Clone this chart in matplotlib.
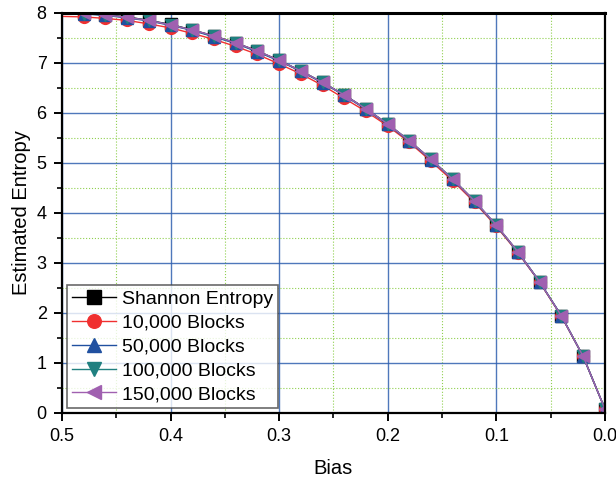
import matplotlib
matplotlib.use("Agg")
import matplotlib.pyplot as plt
from matplotlib.ticker import MultipleLocator

plt.rcParams["font.family"] = ["Liberation Sans", "DejaVu Sans"]

# bias values (0.5 down to 0.0)
bias = [0.50, 0.48, 0.46, 0.44, 0.42, 0.40, 0.38, 0.36, 0.34, 0.32, 0.30, 0.28, 0.26,
        0.24, 0.22, 0.20, 0.18, 0.16, 0.14, 0.12, 0.10, 0.08, 0.06, 0.04, 0.02, 0.00]

shannon = [8.00, 7.99, 7.96, 7.92, 7.85, 7.77, 7.66, 7.54, 7.40, 7.24, 7.05, 6.84, 6.61,
           6.36, 6.08, 5.78, 5.44, 5.07, 4.67, 4.24, 3.75, 3.22, 2.62, 1.94, 1.13, 0.08]
blocks_10k = [7.93, 7.92, 7.89, 7.85, 7.78, 7.70, 7.59, 7.47, 7.33, 7.17, 6.98, 6.78, 6.55,
              6.29, 6.03, 5.74, 5.41, 5.03, 4.64, 4.21, 3.73, 3.20, 2.61, 1.93, 1.13, 0.08]
blocks_50k = [7.99, 7.98, 7.95, 7.90, 7.84, 7.75, 7.65, 7.52, 7.39, 7.22, 7.04, 6.83, 6.60,
              6.35, 6.07, 5.77, 5.43, 5.06, 4.67, 4.23, 3.75, 3.21, 2.62, 1.94, 1.13, 0.08]
blocks_100k = [8.00, 7.98, 7.96, 7.91, 7.85, 7.76, 7.66, 7.53, 7.40, 7.23, 7.05, 6.84, 6.61,
               6.36, 6.08, 5.78, 5.44, 5.07, 4.67, 4.24, 3.75, 3.22, 2.62, 1.94, 1.13, 0.08]
blocks_150k = [8.00, 7.99, 7.96, 7.91, 7.85, 7.76, 7.66, 7.54, 7.40, 7.24, 7.05, 6.84, 6.61,
               6.36, 6.08, 5.78, 5.44, 5.07, 4.67, 4.24, 3.76, 3.22, 2.62, 1.94, 1.13, 0.08]

series = [
    ("Shannon Entropy", shannon, "black", "s"),
    ("10,000 Blocks", blocks_10k, "#f03030", "o"),
    ("50,000 Blocks", blocks_50k, "#2050a0", "^"),
    ("100,000 Blocks", blocks_100k, "#208080", "v"),
    ("150,000 Blocks", blocks_150k, "#a060b0", "<"),
]

fig = plt.figure(figsize=(6.16, 4.78), dpi=100)
ax = fig.add_axes([0.1006, 0.136, 0.8814, 0.837])

for nome, vals, cor, marc in series:
    ax.plot(bias, vals, color=cor, marker=marc, markersize=8.5, linewidth=1.0,
            markevery=slice(1, None), label=nome)

ax.set_xlim(0.5, 0.0)
ax.set_ylim(0, 8)
ax.xaxis.set_major_locator(MultipleLocator(0.1))
ax.xaxis.set_minor_locator(MultipleLocator(0.05))
ax.yaxis.set_major_locator(MultipleLocator(1))
ax.yaxis.set_minor_locator(MultipleLocator(0.5))
ax.set_xticks([0.5, 0.4, 0.3, 0.2, 0.1, 0.0])
ax.set_xticklabels(["0.5", "0.4", "0.3", "0.2", "0.1", "0.0"])

ax.grid(which="major", color="#3060b0", linewidth=1.0, alpha=0.85)
ax.grid(which="minor", color="#90d050", linewidth=0.8, linestyle=":")
ax.set_axisbelow(True)

for lado in ["left", "bottom", "right"]:
    ax.spines[lado].set_linewidth(1.6)
    ax.spines[lado].set_color("black")
ax.spines["top"].set_linewidth(2.2)

ax.tick_params(which="major", direction="out", length=6, width=1.4, labelsize=13, pad=5)
ax.tick_params(which="minor", direction="out", length=3.5, width=1.2)
ax.tick_params(top=False, right=False, which="both")

ax.set_xlabel("Bias", fontsize=14.5, labelpad=10)
ax.set_ylabel("Estimated Entropy", fontsize=14.5, labelpad=4)

leg = ax.legend(loc="lower left", fontsize=14, frameon=True, fancybox=False,
                edgecolor="#444444", borderaxespad=0.25, handlelength=2.3,
                labelspacing=0.32, borderpad=0.25, handletextpad=0.3, markerscale=1.15)
leg.get_frame().set_linewidth(1.2)

fig.savefig("out.png", dpi=100)
